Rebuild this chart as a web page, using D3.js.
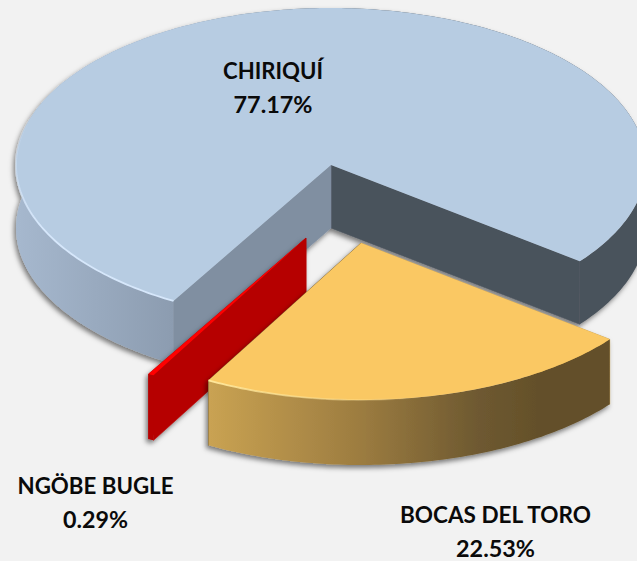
<!DOCTYPE html>
<html>
<head>
<meta charset="utf-8">
<script src="https://cdn.jsdelivr.net/npm/d3@7"></script>
<style>
  html, body { margin: 0; padding: 0; background: #f2f2f2; }
  svg { display: block; }
  text { font-family: Lato, "Open Sans", sans-serif; font-weight: 700; fill: #0a0a0a; text-anchor: middle; }
</style>
</head>
<body>
<div id="chart"></div>
<script>
const regions = ['CHIRIQUÍ', 'BOCAS DEL TORO', 'NGÖBE BUGLE'];
const shares = [77.17, 22.53, 0.29];

const width = 637, height = 561;
const cx = 331, cy = 165, rx = 315, ry = 157;
const startDeg = 210;

// pull-out of each slice, its thickness, and where its label sits
const offsets = [[0, 0], [30, 78], [-25, 73]];
const depths = [63, 65, 65];
const labelPos = [[273, 79], [495.5, 523], [95.5, 494]];
const labelWidth = [[100, 79], [191, 79], [156, 65]];

const topColor = ['#b7cce2', '#fac864', '#ff0000'];
const faceStart = ['#808fa1', '#c8a050', '#b60000'];
const faceEnd = ['#4a535c', '#64502a', '#b60000'];
const wallStops = [
  [[0, '#a6b8ce'], [0.25, '#8c9cb0'], [0.5, '#4a535c'], [1, '#4a535c']],
  [[0.26, '#c9a252'], [0.5, '#9c7c40'], [0.68, '#6f5a31'], [0.78, '#64502a'], [1, '#64502a']],
  [[0, '#b60000'], [1, '#b60000']]
];
const rimColor = ['#d6e7fb', '#ffe79a'];

const svg = d3.select('#chart').append('svg')
  .attr('width', width)
  .attr('height', height);

const defs = svg.append('defs');

const shadow = defs.append('filter')
  .attr('id', 'shadow')
  .attr('x', '-10%').attr('y', '-10%')
  .attr('width', '120%').attr('height', '120%');
shadow.append('feDropShadow')
  .attr('dx', -2).attr('dy', 3)
  .attr('stdDeviation', 2.5)
  .attr('flood-color', '#000')
  .attr('flood-opacity', 0.5);

const soft = defs.append('filter')
  .attr('id', 'soft')
  .attr('filterUnits', 'userSpaceOnUse')
  .attr('x', -400).attr('y', -300)
  .attr('width', 800).attr('height', 600);
soft.append('feGaussianBlur').attr('stdDeviation', 0.6);

const rad = d => d * Math.PI / 180;

const pie = d3.pie()
  .sort(null)
  .startAngle(rad(startDeg))
  .endAngle(rad(startDeg + 360));
const slices = pie(shares);

// angle on the pie (0 = top, clockwise) to a point on the flattened disc
const onDisc = a => [rx * Math.sin(a), -ry * Math.cos(a)];
const line = d3.line();

function arcPoints(a0, a1, dy = 0) {
  const n = Math.max(2, Math.ceil((a1 - a0) * 60));
  return d3.range(n + 1).map(i => {
    const p = onDisc(a0 + (a1 - a0) * i / n);
    return [p[0], p[1] + dy];
  });
}

slices.forEach((s, i) => {
  const grad = defs.append('linearGradient')
    .attr('id', 'wall' + i)
    .attr('gradientUnits', 'userSpaceOnUse')
    .attr('x1', -rx).attr('x2', rx)
    .attr('y1', 0).attr('y2', 0);
  wallStops[i].forEach(st => {
    grad.append('stop').attr('offset', st[0]).attr('stop-color', st[1]);
  });
});

// the lit rim fades out: upward on the big slice, to the right on the yellow one
const rimFade = [
  { x1: 0, y1: 60, x2: 0, y2: -50 },
  { x1: -150, y1: 0, x2: 60, y2: 0 }
];
rimFade.forEach((f, i) => {
  const grad = defs.append('linearGradient')
    .attr('id', 'rim' + i)
    .attr('gradientUnits', 'userSpaceOnUse')
    .attr('x1', f.x1).attr('y1', f.y1)
    .attr('x2', f.x2).attr('y2', f.y2);
  grad.append('stop').attr('offset', 0).attr('stop-color', rimColor[i]);
  grad.append('stop').attr('offset', 1).attr('stop-color', rimColor[i]).attr('stop-opacity', 0);
});

// back to front
[0, 2, 1].forEach(i => {
  const s = slices[i];
  const depth = depths[i];
  const g = svg.append('g')
    .attr('class', 'slice')
    .attr('filter', 'url(#shadow)')
    .attr('transform', `translate(${cx + offsets[i][0]},${cy + offsets[i][1]})`);

  // cut faces at both ends of the slice
  [[s.endAngle, faceEnd[i]], [s.startAngle, faceStart[i]]].forEach(f => {
    const p = onDisc(f[0]);
    g.append('path')
      .attr('d', line([[0, 0], p, [p[0], p[1] + depth], [0, depth]]) + 'Z')
      .attr('fill', f[1])
      .attr('stroke', f[1])
      .attr('stroke-width', 0.6);
  });

  // outer wall
  const rimTop = arcPoints(s.startAngle, s.endAngle);
  const rimBottom = arcPoints(s.startAngle, s.endAngle, depth).reverse();
  g.append('path')
    .attr('d', line(rimTop.concat(rimBottom)) + 'Z')
    .attr('fill', `url(#wall${i})`);

  // top of the slice
  g.append('path')
    .attr('d', line([[0, 0]].concat(rimTop)) + 'Z')
    .attr('fill', topColor[i]);

  // lit edge on the front left of the rim
  if (i < 2) {
    const a0 = i === 0 ? s.startAngle : s.startAngle + (s.endAngle - s.startAngle) * 0.45;
    const a1 = i === 0 ? s.startAngle + rad(85) : s.endAngle;
    g.append('path')
      .attr('d', line(arcPoints(a0, a1)))
      .attr('fill', 'none')
      .attr('stroke', `url(#rim${i})`)
      .attr('stroke-width', 1.8)
      .attr('filter', 'url(#soft)');
  }
});

const labels = svg.append('g').attr('class', 'labels');
regions.forEach((name, i) => {
  const [x, y] = labelPos[i];
  const lines = [name, d3.format('.2f')(shares[i]) + '%'];
  lines.forEach((t, k) => {
    labels.append('text')
      .attr('x', x)
      .attr('y', y + k * 33.5)
      .attr('font-size', 22)
      .attr('textLength', labelWidth[i][k])
      .attr('lengthAdjust', 'spacingAndGlyphs')
      .text(t);
  });
});
</script>
</body>
</html>
